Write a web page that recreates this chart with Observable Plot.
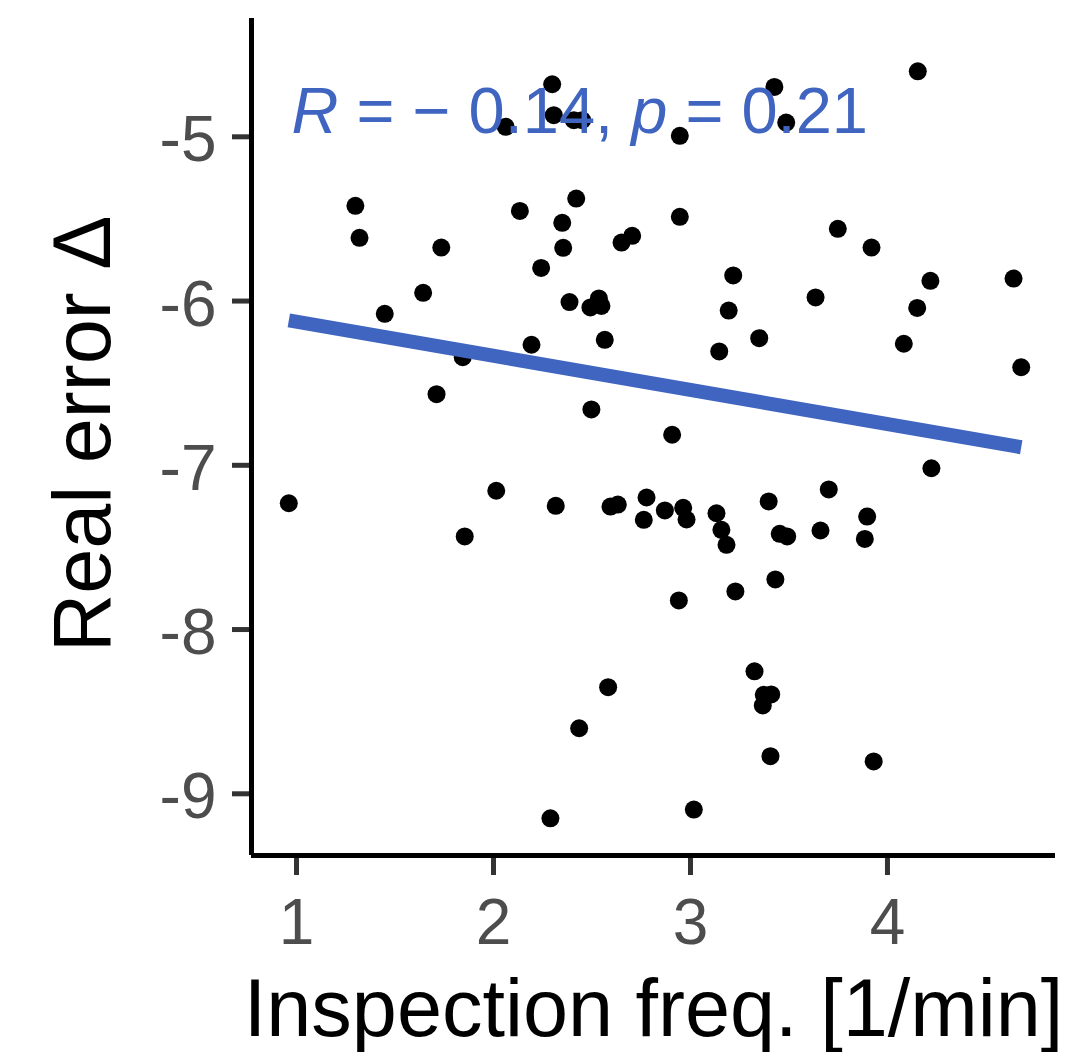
<!DOCTYPE html>
<html>
<head>
<meta charset="utf-8">
<script src="https://cdn.jsdelivr.net/npm/d3@7"></script>
<script src="https://cdn.jsdelivr.net/npm/@observablehq/plot@0.6"></script>
<style>
  html, body { margin: 0; padding: 0; background: #ffffff; }
  #chart { width: 1083px; height: 1052px; }
</style>
</head>
<body>
<div id="chart"></div>
<script>
// ---- data ----
const inspectionFreq = [
  2.062, 1.299, 2.134, 1.320, 1.735, 1.643, 1.448, 2.298, 2.306, 2.408,
  2.450, 2.946, 3.426, 3.486, 2.420, 2.349, 2.946, 2.650, 2.704, 2.354,
  2.242, 3.217, 2.386, 2.492, 2.535, 2.548, 3.194, 4.154, 3.748, 3.919,
  4.218, 4.640, 3.635, 4.151, 1.844, 2.193, 1.711, 0.961, 2.014, 1.854,
  2.565, 3.349, 3.146, 2.497, 2.907, 2.316, 2.594, 2.631, 2.777, 2.870,
  2.763, 2.963, 2.980, 3.132, 3.157, 3.183, 3.397, 3.453, 3.491, 3.431,
  3.228, 4.083, 4.679, 4.223, 3.702, 3.660, 3.897, 3.885, 2.941, 2.582,
  2.435, 3.325, 3.372, 3.410, 3.367, 3.406, 2.289, 3.017, 3.930
];
const realError = [
  -4.939, -5.420, -5.451, -5.615, -5.674, -5.950, -6.078, -4.680, -4.868, -4.899,
  -4.899, -4.994, -4.696, -4.913, -5.376, -5.524, -5.487, -5.644, -5.603, -5.676,
  -5.798, -5.844, -6.006, -6.039, -5.984, -6.030, -6.058, -4.601, -5.560, -5.674,
  -5.877, -5.863, -5.978, -6.042, -6.342, -6.266, -6.567, -7.231, -7.155, -7.433,
  -6.236, -6.226, -6.307, -6.660, -6.814, -7.247, -7.251, -7.239, -7.196, -7.275,
  -7.332, -7.259, -7.330, -7.292, -7.393, -7.484, -7.220, -7.417, -7.433, -7.695,
  -7.768, -6.260, -6.403, -7.018, -7.147, -7.397, -7.312, -7.448, -7.823, -8.351,
  -8.601, -8.254, -8.397, -8.395, -8.462, -8.771, -9.149, -9.096, -8.803
];
// fitted regression line (end points)
const fitX = [0.961, 4.679];
const fitY = [-6.118, -6.890];
// correlation annotation
const corR = "− 0.14";
const corP = "0.21";
// ticks
const xTicks = [1, 2, 3, 4];
const xTickLabels = ["1", "2", "3", "4"];
const yTicks = [-9, -8, -7, -6, -5];
const yTickLabels = ["-9", "-8", "-7", "-6", "-5"];
const xTitle = "Inspection freq. [1/min]";
const yTitle = "Real error Δ";

// ---- build ----
const points = inspectionFreq.map((x, i) => ({x, y: realError[i]}));
const fit = fitX.map((x, i) => ({x, y: fitY[i]}));
const annotation = `R = ${corR}, p = ${corP}`;

const xDomain = [0.7716, 4.853];
const yDomain = [-9.3757, -4.2797];
const blue = "#4065C0";
const font = "'Liberation Sans', Arial, Helvetica, sans-serif";

const chart = Plot.plot({
  width: 1083,
  height: 1052,
  marginLeft: 251,
  marginRight: 28,
  marginTop: 18,
  marginBottom: 197,
  x: {domain: xDomain},
  y: {domain: yDomain},
  style: {fontFamily: font, background: "#ffffff", color: "#000000"},
  marks: [
    Plot.dot(points, {x: "x", y: "y", r: 9, fill: "#000000", stroke: "none"}),
    Plot.line(fit, {x: "x", y: "y", stroke: blue, strokeWidth: 14, strokeLinecap: "butt"}),
    Plot.text([annotation], {
      frameAnchor: "top-left", text: d => d, textAnchor: "start", lineAnchor: "top",
      dx: 40, dy: 68, fontSize: 65, fill: blue
    }),
    // ticks
    Plot.axisX({ticks: xTicks, tickSize: 20, fill: "none", stroke: "#333333", strokeWidth: 5, label: null}),
    Plot.axisY({ticks: yTicks, tickSize: 19, fill: "none", stroke: "#333333", strokeWidth: 5, label: null}),
    // tick labels
    Plot.axisX({ticks: xTicks, tickSize: 20, tickPadding: 23, stroke: "none", fill: "#4D4D4D", fontSize: 64,
      label: null, tickFormat: d => xTickLabels[xTicks.indexOf(d)]}),
    Plot.axisY({ticks: yTicks, tickSize: 19, tickPadding: 16, stroke: "none", fill: "#4D4D4D", fontSize: 64,
      dy: 4, label: null, tickFormat: d => yTickLabels[yTicks.indexOf(d)]}),
    // axis lines
    Plot.ruleX([xDomain[0]], {stroke: "#000000", strokeWidth: 5}),
    Plot.ruleY([yDomain[0]], {stroke: "#000000", strokeWidth: 5}),
    // titles
    Plot.text([xTitle], {frameAnchor: "bottom", text: d => d, textAnchor: "middle", lineAnchor: "middle", dy: 155, fontSize: 81, fill: "#000000"}),
    Plot.text([yTitle], {frameAnchor: "left", text: d => d, textAnchor: "middle", lineAnchor: "middle", rotate: -90, dx: -167, dy: -3, fontSize: 81, fill: "#000000"})
  ]
});

// italic R and p in the annotation
chart.querySelectorAll("text").forEach(t => {
  if (t.textContent === annotation) {
    t.textContent = "";
    const parts = [["R", true], [` = ${corR}, `, false], ["p", true], [` = ${corP}`, false]];
    parts.forEach(([s, it]) => {
      const ts = document.createElementNS("http://www.w3.org/2000/svg", "tspan");
      ts.textContent = s;
      if (it) ts.setAttribute("font-style", "italic");
      t.appendChild(ts);
    });
    t.setAttribute("style", "white-space: pre");
  }
});

document.getElementById("chart").appendChild(chart);
</script>
</body>
</html>
